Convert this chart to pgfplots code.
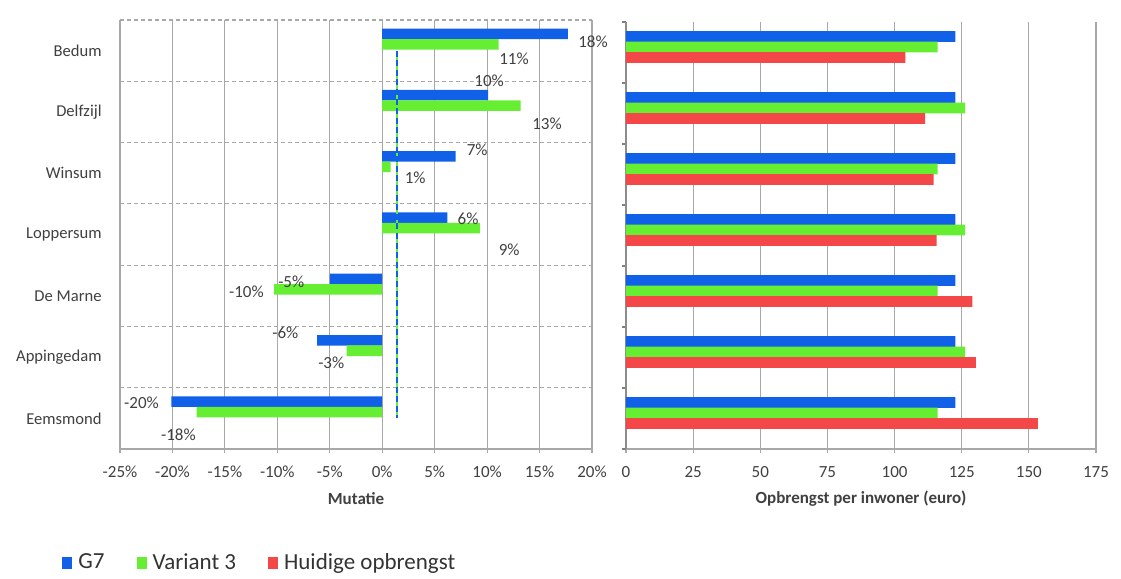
\documentclass[border=0pt]{standalone}
\usepackage{pgfplots}
\pgfplotsset{compat=1.18}
\usepackage{fontspec}
\setmainfont{Carlito}
\definecolor{gseven}{HTML}{1060E8}
\definecolor{varthree}{HTML}{66EE33}
\definecolor{huidig}{HTML}{F44848}
\definecolor{gridgray}{HTML}{A8A8A8}
\definecolor{txt}{HTML}{404040}
\tikzset{lbl/.style={font=\fontsize{8.5}{10}\selectfont, text=txt, anchor=center, inner sep=0pt}}
\begin{document}
\begin{tikzpicture}
\useasboundingbox (0,0) rectangle (560.5pt,289.5pt);
\pgfplotsset{
  panel/.style={
    scale only axis, anchor=south west,
    ymin=-0.5, ymax=6.5,
    axis x line*=bottom, axis y line*=left,
    x axis line style={-, draw=gridgray, line width=0.7pt},
    y axis line style={-, draw=gridgray, line width=0.7pt},
    xmajorgrids, major grid style={draw=gridgray, line width=0.6pt},
    tick align=outside, major tick length=2pt, minor tick length=0pt,
    major x tick style={draw=gridgray, line width=0.6pt},
    /pgf/number format/assume math mode=true,
    xticklabel style={font=\fontsize{8.5}{10}\selectfont, text=txt, anchor=center, yshift=-9.5pt},
    xlabel style={font=\fontsize{8.5}{10}\selectfont\bfseries, text=txt,
      at={(axis description cs:0.5,0)}, anchor=center, yshift=-24.8pt},
    bar width=0.172, clip=false,
  },
}
% Left panel: relative change per municipality
\begin{axis}[panel,
  at={(60pt,65pt)}, width=236pt, height=214.5pt,
  xmin=-25, xmax=20, xtick={-25,-20,...,20},
  xticklabel={\pgfmathprintnumber{\tick}\%},
  xlabel={Mutatie},
  ytick={0,...,6},
  yticklabels={Eemsmond,Appingedam,De Marne,Loppersum,Winsum,Delfzijl,Bedum},
  yticklabel style={font=\fontsize{8.3}{10}\selectfont, text=txt, anchor=east, inner sep=0pt, xshift=-7pt},
  major y tick style={draw=none},
  minor ytick={0.5,1.5,...,6.5}, yminorgrids,
  minor grid style={draw=gridgray, line width=0.6pt, dash pattern=on 2pt off 1.5pt},
]
\addplot[xbar, bar shift=0.274, fill=gseven, draw=none]
  coordinates {(17.7,6) (10.1,5) (7.0,4) (6.2,3) (-5.0,2) (-6.2,1) (-20.1,0)};
\addplot[xbar, bar shift=0.103, fill=varthree, draw=none]
  coordinates {(11.1,6) (13.2,5) (0.8,4) (9.3,3) (-10.3,2) (-3.4,1) (-17.7,0)};
% average lines: green underneath, blue dashes on top
\addplot[varthree, line width=1.1pt]
  coordinates {(1.4,6) (1.4,0)};
\addplot[gseven, line width=1.2pt, dash pattern=on 3pt off 1.8pt]
  coordinates {(1.4,6) (1.4,0)};
\node[lbl] at (axis cs:20.1,6.144) {18\%};
\node[lbl] at (axis cs:12.57,5.861) {11\%};
\node[lbl] at (axis cs:10.19,5.502) {10\%};
\node[lbl] at (axis cs:15.71,4.801) {13\%};
\node[lbl] at (axis cs:9.05,4.377) {7\%};
\node[lbl] at (axis cs:3.14,3.920) {1\%};
\node[lbl] at (axis cs:8.19,3.251) {6\%};
\node[lbl] at (axis cs:12.1,2.746) {9\%};
\node[lbl] at (axis cs:-8.67,2.224) {-5\%};
\node[lbl] at (axis cs:-12.95,2.060) {-10\%};
\node[lbl] at (axis cs:-9.24,1.392) {-6\%};
\node[lbl] at (axis cs:-4.86,0.902) {-3\%};
\node[lbl] at (axis cs:-22.95,0.250) {-20\%};
\node[lbl] at (axis cs:-19.43,-0.272) {-18\%};
\end{axis}
% Right panel: revenue per inhabitant
\begin{axis}[panel,
  at={(313pt,65pt)}, width=235pt, height=213.5pt,
  xmin=0, xmax=175, xtick={0,25,...,175},
  xlabel={Opbrengst per inwoner (euro)},
  ytick={-0.5,0.5,...,6.5}, yticklabels={},
  major y tick style={draw=gray, line width=0.6pt},
  y axis line style={-, draw=gray!90, line width=0.7pt},
  bar width=0.175,
  legend columns=3,
  legend style={draw=none, fill=none, at={(axis description cs:-1.2,-0.267)}, anchor=west,
    font=\fontsize{11.5}{13}\selectfont, text=black!80, inner sep=0pt,
    /tikz/every even column/.append style={column sep=14pt},
    /tikz/every odd column/.append style={column sep=1pt}},
  legend image code/.code={\fill[#1] (0pt,-3pt) rectangle (5pt,3pt);},
]
\addplot[xbar, bar shift=0.262, fill=gseven, draw=none]
  coordinates {(122.6,6) (122.6,5) (122.6,4) (122.6,3) (122.6,2) (122.6,1) (122.6,0)};
\addplot[xbar, bar shift=0.09, fill=varthree, draw=none]
  coordinates {(116,6) (126.3,5) (116,4) (126.3,3) (116,2) (126.3,1) (116,0)};
\addplot[xbar, bar shift=-0.082, fill=huidig, draw=none]
  coordinates {(104,6) (111.4,5) (114.5,4) (115.7,3) (129,2) (130.3,1) (153.4,0)};
\legend{G7, Variant 3, Huidige opbrengst}
\end{axis}
\end{tikzpicture}
\end{document}
